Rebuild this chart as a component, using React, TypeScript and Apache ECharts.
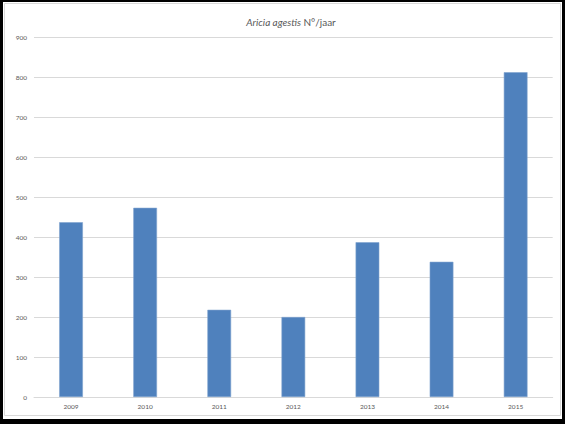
import React, { useEffect, useRef } from "react";
import * as echarts from "echarts";

const categories = ["2009", "2010", "2011", "2012", "2013", "2014", "2015"];
const values = [437, 473, 218, 200, 387, 338, 812];
const yMin = 0;
const yMax = 900;
const yInterval = 100;

export default function App() {
  const ref = useRef<HTMLDivElement>(null);
  useEffect(() => {
    if (!ref.current) return;
    const chart = echarts.init(ref.current, null, { renderer: "svg" });
    chart.setOption({
      animation: false,
      backgroundColor: "#ffffff",
      title: {
        text: "{i|Aricia agestis}{n| N°/jaar}",
        left: 286,
        textAlign: "center",
        top: 12,
        textStyle: {
          fontWeight: "normal",
          rich: {
            i: { fontFamily: "Lato", fontStyle: "italic", fontWeight: "normal", fontSize: 10, color: "#595959" },
            n: { fontFamily: "Lato", fontWeight: "normal", fontSize: 10, color: "#595959" },
          },
        },
      },
      graphic: [
        { type: "rect", shape: { x: 0, y: 0, width: 565, height: 2 }, style: { fill: "#000" }, silent: true },
        { type: "rect", shape: { x: 0, y: 0, width: 3, height: 424 }, style: { fill: "#000" }, silent: true },
        { type: "rect", shape: { x: 0, y: 419, width: 565, height: 5 }, style: { fill: "#000" }, silent: true },
        { type: "rect", shape: { x: 562, y: 0, width: 3, height: 424 }, style: { fill: "#000" }, silent: true },
        { type: "rect", shape: { x: 4.5, y: 3.5, width: 556, height: 412 }, style: { fill: "none", stroke: "#D9D9D9", lineWidth: 1 }, silent: true },
      ],
      grid: { left: 34, right: 12.3, top: 37, bottom: 27, containLabel: false },
      xAxis: {
        type: "category",
        data: categories,
        axisLine: { lineStyle: { color: "#D9D9D9", width: 1 } },
        axisTick: { show: false },
        axisLabel: { fontFamily: "Lato", fontSize: 6.5, color: "#595959", margin: 6 },
      },
      yAxis: {
        type: "value",
        min: yMin,
        max: yMax,
        interval: yInterval,
        axisLine: { show: false },
        axisTick: { show: false },
        splitLine: { lineStyle: { color: "#D9D9D9", width: 1 } },
        axisLabel: { fontFamily: "Lato", fontSize: 6.5, color: "#595959", margin: 7 },
      },
      series: [
        {
          type: "bar",
          data: values,
          barWidth: "32%",
          itemStyle: { color: "#4F81BD", borderColor: "#7FA2CF", borderWidth: 0.6 },
        },
      ],
    });
    return () => chart.dispose();
  }, []);
  return <div ref={ref} style={{ position: "fixed", left: 0, top: 0, width: 565, height: 424 }} />;
}
